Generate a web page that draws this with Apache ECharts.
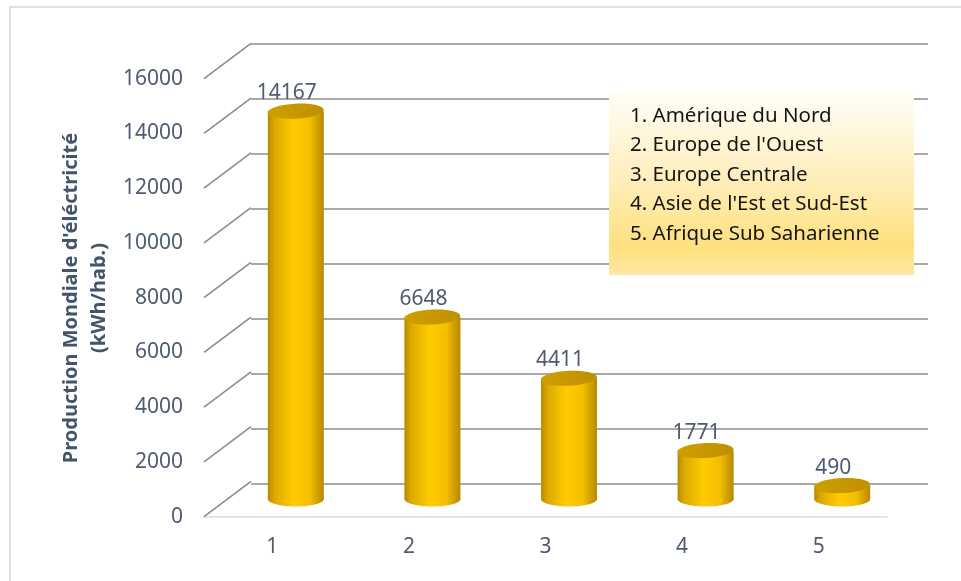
<!DOCTYPE html>
<html>
<head>
<meta charset="utf-8">
<script src="https://cdn.jsdelivr.net/npm/echarts@6/dist/echarts.min.js"></script>
<style>
  html, body { margin: 0; padding: 0; background: #fff; }
  #main { width: 961px; height: 581px; }
</style>
</head>
<body>
<div id="main"></div>
<script>
// data
const categories = ['1', '2', '3', '4', '5'];
const production = [14167, 6648, 4411, 1771, 490];
const regions = [
  '1. Amérique du Nord',
  "2. Europe de l'Ouest",
  '3. Europe Centrale',
  "4. Asie de l'Est et Sud-Est",
  '5. Afrique Sub Saharienne'
];
const yTicks = [0, 2000, 4000, 6000, 8000, 10000, 12000, 14000, 16000];

// fake 3d: back wall sits this far from the front plane
const DEPTH = [47, -35.4];
const FONT = '"Noto Sans", "Liberation Sans", sans-serif';
const TEXT_COLOR = '#4e5b70';
const GRID_COLOR = '#8c8c8c';

var chart = echarts.init(document.getElementById('main'));

function renderDiagonal(params, api) {
  var p = api.coord([0, api.value(1)]);
  var x0 = params.coordSys.x;
  return {
    type: 'line',
    shape: { x1: x0, y1: p[1], x2: x0 + DEPTH[0], y2: p[1] + DEPTH[1] },
    style: { stroke: GRID_COLOR, lineWidth: 1.6 }
  };
}

function renderCylinder(params, api) {
  var base = api.coord([api.value(0), 0]);
  var top = api.coord([api.value(0), api.value(1)]);
  var rx = api.size([1, 0])[0] * 0.205;
  var ry = 7.5;
  var cx = base[0] + DEPTH[0] / 2;
  var yb = base[1] + DEPTH[1] / 2;
  var yt = top[1] + DEPTH[1] / 2;
  var body = new echarts.graphic.LinearGradient(0, 0, 1, 0, [
    { offset: 0, color: '#b88a00' },
    { offset: 0.12, color: '#dcaa00' },
    { offset: 0.45, color: '#ffcb00' },
    { offset: 0.75, color: '#f5bf00' },
    { offset: 1, color: '#b58800' }
  ]);
  var cap = new echarts.graphic.LinearGradient(0, 0, 1, 0, [
    { offset: 0, color: '#cf9f00' },
    { offset: 1, color: '#bf9000' }
  ]);
  return {
    type: 'group',
    children: [
      { type: 'ellipse', shape: { cx: cx, cy: yb, rx: rx, ry: ry }, style: { fill: body } },
      { type: 'rect', shape: { x: cx - rx, y: yt, width: rx * 2, height: yb - yt }, style: { fill: body } },
      {
        type: 'ellipse',
        shape: { cx: cx, cy: yt, rx: rx, ry: ry },
        rotation: 0.05, originX: cx, originY: yt,
        style: { fill: cap }
      },
      {
        type: 'text',
        style: {
          text: String(api.value(1)),
          x: cx - 9, y: yt - 18,
          textAlign: 'center', textVerticalAlign: 'middle',
          fontSize: 21, fontFamily: FONT, fill: TEXT_COLOR
        }
      }
    ]
  };
}

var option = {
  backgroundColor: '#fff',
  animation: false,
  grid: [
    { left: 204, top: 78.7, width: 683, height: 438 },
    { left: 251, top: 43.3, width: 677, height: 440 }
  ],
  xAxis: [
    {
      gridIndex: 0,
      type: 'category',
      data: categories,
      axisLine: { lineStyle: { color: '#d6dce5', width: 1.5 } },
      axisTick: { length: 6, lineStyle: { color: '#d6dce5', width: 1.5 } },
      axisLabel: { color: TEXT_COLOR, fontSize: 21, fontFamily: FONT, margin: 20 }
    },
    { gridIndex: 1, type: 'category', data: categories, show: false }
  ],
  yAxis: [
    {
      gridIndex: 0,
      type: 'value',
      min: 0, max: 16000, interval: 2000,
      axisLine: { show: false },
      axisTick: { show: false },
      splitLine: { show: false },
      axisLabel: {
        color: TEXT_COLOR, fontSize: 21, fontFamily: FONT, margin: 21,
        formatter: function (v) { return String(v); }
      }
    },
    {
      gridIndex: 1,
      type: 'value',
      min: 0, max: 16000, interval: 2000,
      axisLine: { show: false },
      axisTick: { show: false },
      axisLabel: { show: false },
      splitLine: { lineStyle: { color: GRID_COLOR, width: 1.6 } }
    }
  ],
  graphic: [
    {
      type: 'rect', z: 0,
      shape: { x: 10, y: 7, width: 1000, height: 1000 },
      style: { fill: 'none', stroke: '#dbe1ea', lineWidth: 2 }
    },
    {
      type: 'text', z: 10,
      x: 85, y: 298, rotation: Math.PI / 2,
      style: {
        text: "Production Mondiale d'éléctricité\n(kWh/hab.)",
        textAlign: 'center', textVerticalAlign: 'middle',
        fontSize: 20, fontWeight: 'bold', fontFamily: FONT,
        lineHeight: 28, fill: '#44546a'
      }
    },
    {
      type: 'rect', z: 10,
      shape: { x: 609, y: 92, width: 305, height: 183 },
      style: {
        fill: new echarts.graphic.LinearGradient(0, 0, 0, 1, [
          { offset: 0, color: '#fffdf6' },
          { offset: 0.45, color: '#ffefc0' },
          { offset: 0.85, color: '#ffe07e' },
          { offset: 1, color: '#ffe8a6' }
        ])
      }
    },
    {
      type: 'text', z: 11,
      x: 630, y: 101,
      style: {
        text: regions.join('\n'),
        fontSize: 20.5, fontFamily: FONT, lineHeight: 29.5,
        fill: '#141414'
      }
    }
  ],
  series: [
    {
      type: 'custom',
      xAxisIndex: 0, yAxisIndex: 0,
      renderItem: renderDiagonal,
      data: yTicks.map(function (t) { return [0, t]; }),
      silent: true,
      z: 1
    },
    {
      type: 'custom',
      xAxisIndex: 0, yAxisIndex: 0,
      renderItem: renderCylinder,
      data: production.map(function (v, i) { return [i, v]; }),
      z: 5
    }
  ]
};

chart.setOption(option);
</script>
</body>
</html>
